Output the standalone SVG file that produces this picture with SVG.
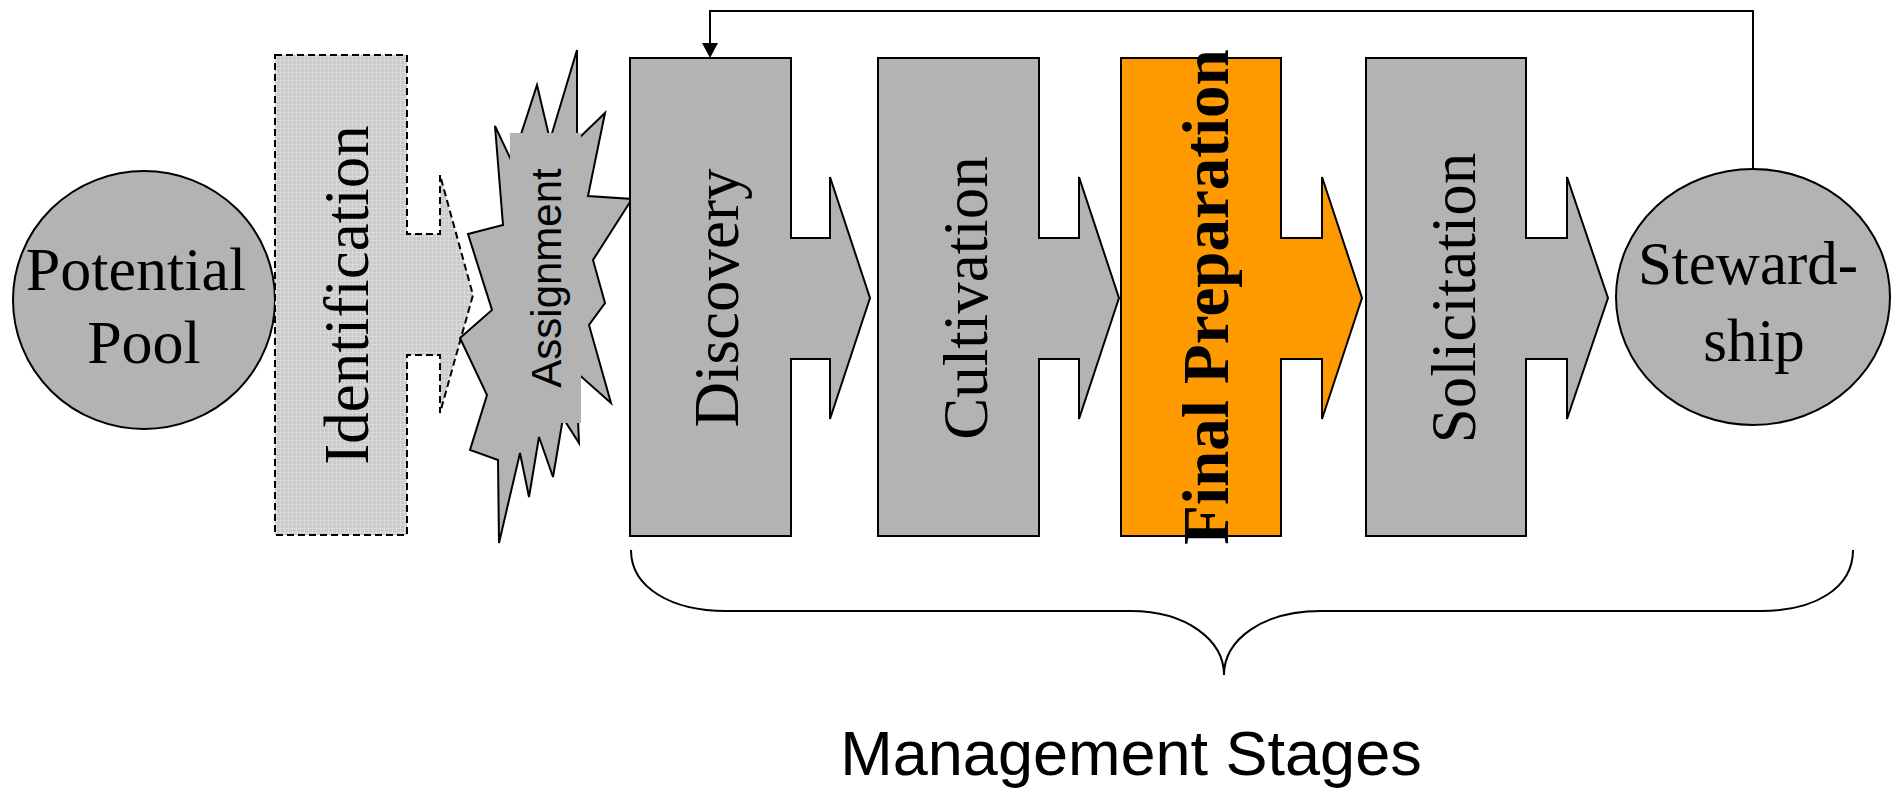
<svg xmlns="http://www.w3.org/2000/svg" width="1893" height="788" viewBox="0 0 1893 788">
  <defs>
    <pattern id="stipple" width="4" height="4" patternUnits="userSpaceOnUse">
      <rect width="4" height="4" fill="#cacaca"/>
      <rect x="0" y="0" width="4" height="1" fill="#dadada"/>
      <rect x="0" y="0" width="1" height="4" fill="#dadada"/>
    </pattern>
  </defs>
  <style>
    .stage { fill: #b3b3b3; stroke: #000; stroke-width: 2; stroke-linejoin: miter; }
    .orange { fill: #ff9900; }
    .serif { font-family: "Liberation Serif", "Times New Roman", serif; fill: #000; }
    .sans { font-family: "Liberation Sans", Arial, sans-serif; fill: #000; }
    .conn { fill: none; stroke: #000; stroke-width: 2; }
  </style>
  <rect width="1893" height="788" fill="#fff"/>

  <g id="potential-pool">
    <ellipse cx="144" cy="300" rx="131" ry="129" class="stage"/>
    <text class="serif" font-size="62" text-anchor="middle" x="136" y="290">Potential</text>
    <text class="serif" font-size="62" text-anchor="middle" x="144" y="363">Pool</text>
  </g>

  <g id="identification">
    <path d="M275,55 L407,55 L407,234 L440,234 L440,175 L473,295 L440,413 L440,355 L407,355 L407,535 L275,535 Z" fill="url(#stipple)" stroke="#000" stroke-width="2" stroke-dasharray="7,4"/>
    <text class="serif" font-size="63" text-anchor="middle" transform="translate(368,295) rotate(-90)">Identification</text>
  </g>

  <g id="assignment">
    <polygon class="stage" stroke-width="2.5" points="468,234 503,225 495,126 512,162 537,85 550,140 577,50 577,140 605,113 588,196 632,199 593,260 605,303 589,325 611,403 576,372 579,443 563,418 553,477 539,437 529,497 520,453 499,543 498,460 470,450 487,395 460,338 492,310"/>
    <rect x="510" y="133" width="71" height="290" fill="#b3b3b3"/>
    <text class="sans" font-size="42" text-anchor="middle" transform="translate(561,278) rotate(-90)">Assignment</text>
  </g>

  <g id="discovery">
    <path class="stage" d="M630,58 L791,58 L791,238 L830,238 L830,177 L870,298 L830,419 L830,359 L791,359 L791,536 L630,536 Z"/>
    <text class="serif" font-size="63" text-anchor="middle" transform="translate(738,298) rotate(-90)">Discovery</text>
  </g>

  <g id="cultivation">
    <path class="stage" d="M878,58 L1039,58 L1039,238 L1079,238 L1079,177 L1119,298 L1079,419 L1079,359 L1039,359 L1039,536 L878,536 Z"/>
    <text class="serif" font-size="63" text-anchor="middle" transform="translate(987,298) rotate(-90)">Cultivation</text>
  </g>

  <g id="final-preparation">
    <path class="stage orange" d="M1121,58 L1281,58 L1281,238 L1322,238 L1322,177 L1362,298 L1322,419 L1322,359 L1281,359 L1281,536 L1121,536 Z"/>
    <text class="serif" font-size="65" font-weight="bold" text-anchor="middle" transform="translate(1228,297) rotate(-90)">Final Preparation</text>
  </g>

  <g id="solicitation">
    <path class="stage" d="M1366,58 L1526,58 L1526,238 L1567,238 L1567,177 L1608,298 L1567,419 L1567,359 L1526,359 L1526,536 L1366,536 Z"/>
    <text class="serif" font-size="63" text-anchor="middle" transform="translate(1475,298) rotate(-90)">Solicitation</text>
  </g>

  <g id="stewardship">
    <ellipse cx="1753" cy="297" rx="137" ry="128" class="stage"/>
    <text class="serif" font-size="61" text-anchor="middle" x="1748" y="284">Steward-</text>
    <text class="serif" font-size="61" text-anchor="middle" x="1754" y="361">ship</text>
  </g>

  <g id="connectors">
    <path class="conn" d="M1753,169 L1753,11 L710,11 L710,44"/>
    <path d="M702,43 L718,43 L710,58 Z" fill="#000"/>
  </g>

  <g id="management-stages">
    <path class="conn" stroke-width="2.5" d="M631,550 C631,588 672,611 726,611 L1131,611 C1186,611 1224,640 1224,675 C1224,640 1262,611 1321,611 L1761,611 C1815,611 1853,588 1853,550"/>
    <text class="sans" font-size="63" text-anchor="middle" x="1131" y="775">Management Stages</text>
  </g>
</svg>
